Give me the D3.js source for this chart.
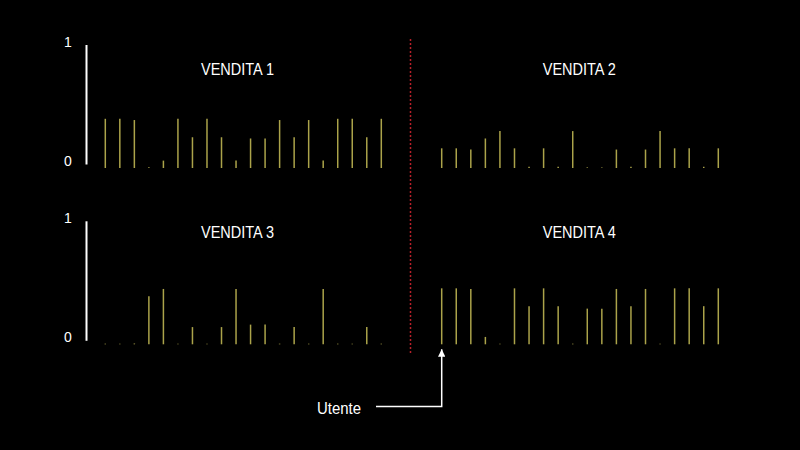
<!DOCTYPE html>
<html>
<head>
<meta charset="utf-8">
<script src="https://cdn.jsdelivr.net/npm/d3@7"></script>
<style>
  html, body { margin: 0; padding: 0; background: #000; }
  svg { display: block; }
  text { font-family: "Liberation Sans", Arial, sans-serif; fill: #fff; }
</style>
</head>
<body>
<svg id="chart" width="800" height="450"></svg>
<script>
// ---- data ----
const titles = ["VENDITA 1", "VENDITA 2", "VENDITA 3", "VENDITA 4"];
const users = d3.range(1, 21);
const vendita1 = [0.40, 0.40, 0.39, 0.00, 0.06, 0.40, 0.25, 0.40, 0.25, 0.06,
                  0.24, 0.24, 0.39, 0.25, 0.39, 0.06, 0.40, 0.40, 0.25, 0.40];
const vendita2 = [0.16, 0.16, 0.15, 0.24, 0.30, 0.16, 0.01, 0.16, 0.01, 0.30,
                  0.005, 0.005, 0.15, 0.01, 0.15, 0.30, 0.16, 0.16, 0.01, 0.16];
const vendita3 = [0.005, 0.005, 0.00, 0.39, 0.45, 0.005, 0.14, 0.005, 0.14, 0.45,
                  0.16, 0.16, 0.005, 0.14, 0.005, 0.45, 0.005, 0.005, 0.14, 0.005];
const vendita4 = [0.455, 0.455, 0.45, 0.06, 0.005, 0.455, 0.31, 0.455, 0.31, 0.005,
                  0.29, 0.29, 0.45, 0.31, 0.45, 0.005, 0.455, 0.455, 0.31, 0.455];
const yTicks = [0, 1];
const annotationLabel = "Utente";

// ---- layout ----
const svg = d3.select("#chart");
const series = [vendita1, vendita2, vendita3, vendita4];
const cols = [[105.3, 381.3], [441.7, 718.3]];
const rows = [[168, 45], [344.3, 221.3]];
const titleX = [237.5, 579.3];
const titleY = [75, 237.7];

const barColor = "#aba34a";

series.forEach((vals, i) => {
  const c = i % 2, r = Math.floor(i / 2);
  const x = d3.scalePoint().domain(users).range(cols[c]);
  const y = d3.scaleLinear().domain([0, 1]).range(rows[r]);
  const g = svg.append("g");

  g.selectAll("line.bar")
    .data(vals)
    .enter().append("line")
    .attr("class", "bar")
    .attr("x1", (d, k) => x(users[k]))
    .attr("x2", (d, k) => x(users[k]))
    .attr("y1", y(0))
    .attr("y2", d => y(d) - (d > 0 ? 0 : 0.8))
    .attr("stroke", barColor)
    .attr("stroke-width", 1.5);

  g.append("text")
    .attr("x", titleX[c])
    .attr("y", titleY[r])
    .attr("text-anchor", "middle")
    .attr("font-size", 17)
    .attr("textLength", 73)
    .attr("lengthAdjust", "spacingAndGlyphs")
    .text(titles[i]);

  if (c === 0) {
    // y axis
    g.append("line")
      .attr("x1", 86.5).attr("x2", 86.5)
      .attr("y1", y(1)).attr("y2", y(0) - 3.5)
      .attr("stroke", "#fff")
      .attr("stroke-width", 2);
    g.selectAll("text.tick")
      .data(yTicks)
      .enter().append("text")
      .attr("class", "tick")
      .attr("x", 68)
      .attr("y", d => d === 1 ? y(1) + 2 : y(0) - 2)
      .attr("text-anchor", "middle")
      .attr("font-size", 14)
      .text(d => d);
  }
});

// red dashed divider
svg.append("line")
  .attr("x1", 410.5).attr("x2", 410.5)
  .attr("y1", 39).attr("y2", 355)
  .attr("stroke", "#b8202a")
  .attr("stroke-width", 1.5)
  .attr("stroke-dasharray", "2,2");

// annotation arrow to first user of VENDITA 4
const xa = d3.scalePoint().domain(users).range(cols[1]);
const ya = d3.scaleLinear().domain([0, 1]).range(rows[1]);
const ax = xa(users[0]);
svg.append("defs").append("marker")
  .attr("id", "arrow")
  .attr("viewBox", "0 0 10 10")
  .attr("refX", 10).attr("refY", 5)
  .attr("markerWidth", 5).attr("markerHeight", 5)
  .attr("orient", "auto")
  .append("path")
  .attr("d", "M0,0 L10,5 L0,10 z")
  .attr("fill", "#fff");

svg.append("path")
  .attr("d", `M376,406.5 H${ax} V${ya(0) + 5}`)
  .attr("fill", "none")
  .attr("stroke", "#fff")
  .attr("stroke-width", 1.5)
  .attr("marker-end", "url(#arrow)");

svg.append("text")
  .attr("x", 339)
  .attr("y", 414)
  .attr("text-anchor", "middle")
  .attr("font-size", 16.5)
  .attr("textLength", 44)
  .attr("lengthAdjust", "spacingAndGlyphs")
  .text(annotationLabel);
</script>
</body>
</html>
